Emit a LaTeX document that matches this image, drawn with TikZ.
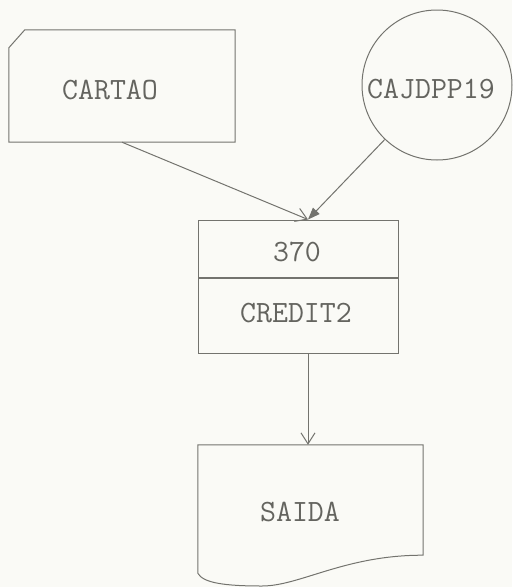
\documentclass[tikz,border=0pt]{standalone}
\usetikzlibrary{arrows.meta}
\definecolor{bgcol}{RGB}{250,250,246}
\definecolor{linegray}{RGB}{115,115,110}
\definecolor{textgray}{RGB}{100,100,95}
\begin{document}
\begin{tikzpicture}[x=1pt,y=-1pt,
  ln/.style={draw=linegray, line width=1pt},
  txt/.style={font=\fontsize{31}{36}\selectfont\ttfamily, text=textgray, inner sep=0pt},
  holder/.style={rectangle, inner sep=0pt},
  openhead/.style={-{Straight Barb[length=11pt,width=14pt]}},
  fillhead/.style={-{Triangle[length=12pt,width=9pt]}}]
\fill[bgcol] (0,0) rectangle (512,587);
\useasboundingbox (0,0) rectangle (512,587);

% card
\node[holder, minimum width=226pt, minimum height=112pt] (card) at (122,86) {};
\draw[ln] ([yshift=-18pt]card.north west) -- ([xshift=16pt]card.north west) -- (card.north east) -- (card.south east) -- (card.south west) -- cycle;
\node[txt] (cardtext) at (110,90) {CARTAO};

% tape / disk circle
\node[circle, ln, minimum size=150pt, inner sep=0pt] (tape) at (437,85) {};
\node[txt] (tapetext) at (431,89) {CAJDPP19};

% process box
\node[holder, ln, minimum width=200pt, minimum height=57pt] (num) at (298,248.5) {};
\node[holder, ln, minimum width=200pt, minimum height=75pt, anchor=north] (name) at (num.south) {};
\node[txt] (numtext) at (297,252) {370};
\node[txt] (nametext) at (296,313) {CREDIT2};

% document
\node[holder, minimum width=225pt, minimum height=110pt] (doc) at (310.5,500) {};
\draw[ln] (doc.south west) -- (doc.north west) -- (doc.north east) -- (doc.south east)
  .. controls (345,555) and (300,586) .. (262,586)
  .. controls (225,586) and (203,583) .. ([yshift=-18pt]doc.south west) -- cycle;
\node[txt] (doctext) at (300,512) {SAIDA};

% connectors
\coordinate (procin) at ([xshift=10pt]num.north);
\coordinate (docin) at ([xshift=-2.5pt]doc.north);
\draw[ln, openhead] (card.south) -- (procin);
\draw[ln, fillhead] (tape) -- (procin);
\draw[ln, openhead] ([xshift=10pt]name.south) -- (docin);
\end{tikzpicture}
\end{document}
